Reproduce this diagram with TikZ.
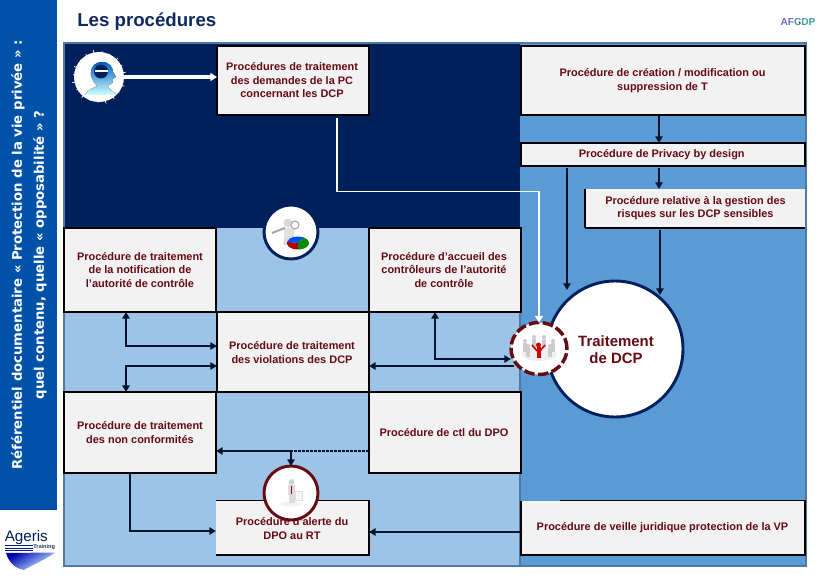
\documentclass[tikz,border=0pt]{standalone}
\usepackage{fontspec}
\setmainfont{Liberation Sans}
\newfontfamily\sidefont{DejaVu Sans}
\usetikzlibrary{arrows.meta,calc,shadings,shapes.geometric}
\definecolor{navy}{HTML}{00205C}
\definecolor{midblue}{HTML}{5B9BD5}
\definecolor{lightblue}{HTML}{9DC3E6}
\definecolor{sidebar}{HTML}{0052A8}
\definecolor{panelline}{HTML}{4F7AA5}
\definecolor{boxfill}{HTML}{F2F2F2}
\definecolor{wine}{HTML}{660A14}
\definecolor{titleblue}{HTML}{0F2A5F}
\definecolor{connc}{HTML}{04142E}
\tikzset{
  boxbase/.style={rectangle,fill=boxfill,inner sep=0pt,outer sep=0pt,anchor=north west},
  boxline/.style={boxbase,draw=black,line width=1.3pt},
  lab/.style={font=\bfseries\fontsize{8.2}{10.1}\selectfont,text=wine,align=center,inner sep=0pt},
  edge/.style={draw=black,line width=1.3pt},
  conn/.style={draw=connc,line width=1.3pt,-{Triangle[length=5pt,width=5.5pt]}},
  conntwo/.style={draw=connc,line width=1.3pt,{Triangle[length=5pt,width=5.5pt]}-{Triangle[length=5pt,width=5.5pt]}},
  whitec/.style={draw=white,line width=1pt,-{Triangle[length=5pt,width=6pt]}},
  disc/.style={circle,fill=white,inner sep=0pt,outer sep=0pt},
}
\begin{document}
\begin{tikzpicture}[x=0.75pt,y=-0.75pt]
\useasboundingbox (0,0) rectangle (822,581);
\fill[white] (0,0) rectangle (822,581);
% sidebar
\fill[sidebar] (0,0) rectangle (57,510);
\node[rotate=90,font=\sidefont\bfseries\fontsize{9.93}{16.5}\selectfont,text=white,align=center,inner sep=0pt] (side) at (29,255)
  {Référentiel documentaire « Protection de la vie privée » :\\quel contenu, quelle « opposabilité » ?};
\node[anchor=west,font=\bfseries\fontsize{14}{16}\selectfont,text=titleblue,inner sep=0pt] (title) at (77,22) {Les procédures};
% AFCDP logo
\node[anchor=center,font=\bfseries\fontsize{7.6}{9}\selectfont,inner sep=0pt] (afcdp) at (798,22.5) {\textcolor{gray!60!blue!80!white}{AF}\textcolor{teal!75!white}{CDP}};
\fill[red!70!black] (799.5,22.5) circle (1);
% panels
\fill[lightblue] (64,44) rectangle (520,565);
\fill[midblue] (520,44) rectangle (805,565);
\fill[navy] (64,44) rectangle (520,228);
\draw[panelline,line width=1.5pt] (63.5,43.5) rectangle (805.5,565.5);
\draw[panelline,line width=1pt] (520,228) -- (520,565);
% boxes
\node[boxline,minimum width=152*0.75pt,minimum height=69*0.75pt] (b1) at (217,46) {};
\node[boxline,minimum width=284*0.75pt,minimum height=69*0.75pt] (b2) at (521,46) {};
\node[boxline,minimum width=284*0.75pt,minimum height=23*0.75pt] (b3) at (521,143) {};
\node[boxbase,minimum width=220*0.75pt,minimum height=39*0.75pt] (b4) at (585,189) {};
\draw[edge,line width=0.9pt] (b4.north west) -- (b4.south west);
\draw[edge] (b4.south west) -- (b4.south east);
\node[boxline,minimum width=152*0.75pt,minimum height=84*0.75pt] (b5) at (64,228) {};
\node[boxline,minimum width=152*0.75pt,minimum height=84*0.75pt] (b6) at (369,228) {};
\node[boxline,minimum width=152*0.75pt,minimum height=80*0.75pt] (b7) at (217,312) {};
\node[boxline,minimum width=152*0.75pt,minimum height=81*0.75pt] (b8) at (64,392) {};
\node[boxline,minimum width=152*0.75pt,minimum height=81*0.75pt] (b9) at (369,392) {};
\node[boxbase,minimum width=153*0.75pt,minimum height=54.5*0.75pt] (b10) at (216,500.5) {};
\draw[edge] (b10.north west) -- (b10.north east) -- (b10.south east) -- (b10.south west);
\node[boxbase,minimum width=284*0.75pt,minimum height=54.5*0.75pt] (b11) at (521,500.5) {};
\coordinate (b11t) at (560,500.5);
\draw[edge] (b11t) -- (b11.north east) -- (b11.south east) -- (b11.south west) -- (b11.north west);
% labels
\node[lab] (t1) at (292,80.5) {Procédures de traitement\\des demandes de la PC\\concernant les DCP};
\node[lab] (t2) at (662.5,80.5) {Procédure de création / modification ou\\suppression de T};
\node[lab] (t3) at (661.7,155) {Procédure de Privacy by design};
\node[lab] (t4) at (695.5,208) {Procédure relative à la gestion des\\risques sur les DCP sensibles};
\node[lab] (t5) at (140,270) {Procédure de traitement\\de la notification de\\l’autorité de contrôle};
\node[lab] (t6) at (444,270) {Procédure d’accueil des\\contrôleurs de l’autorité\\de contrôle};
\node[lab] (t7) at (292,352.5) {Procédure de traitement\\des violations des DCP};
\node[lab] (t8) at (140,432.5) {Procédure de traitement\\des non conformités};
\node[lab] (t9) at (444,433) {Procédure de ctl du DPO};
\node[lab] (t10) at (292,528.5) {Procédure d’alerte du\\DPO au RT};
\node[lab] (t11) at (662.5,528) {Procédure de veille juridique protection de la VP};
% circles
\node[disc,draw=navy,line width=2.2pt,minimum size=136*0.75pt] (main) at (615,349) {};
\node[font=\bfseries\fontsize{11.2}{13}\selectfont,text=wine,align=center,inner sep=0pt] (maint) at (616,349.5) {Traitement\\de DCP};
\node[disc,minimum size=50*0.75pt] (head) at (99,77) {};
\foreach \a/\r in {0/26,20/27,37/25.5,55/26.5,75/27.5,92/26,110/25.5,130/27,150/26,168/27.5,185/26,203/27,222/25.5,240/26.5,258/27.5,277/26,295/25.5,315/27,333/26,350/27}{\draw[white,line width=0.5pt] ($(head)+(\a:24)$) -- ($(head)+(\a:\r)$);}
\node[disc,draw=navy,line width=2.2pt,minimum size=54*0.75pt] (loupe) at (291,232) {};
\node[ellipse,fill=white,inner sep=0pt,outer sep=0pt,draw=wine,line width=2.6pt,dash pattern=on 8pt off 2.5pt,minimum width=56*0.75pt,minimum height=52*0.75pt] (team) at (539,348.5) {};
\node[disc,draw=wine,line width=2.2pt,minimum size=54*0.75pt] (alert) at (291,493) {};
% connectors
\coordinate (hs) at (124,77);
\draw[whitec,line width=2.4pt] (hs) -- (b1.west |- hs);
\coordinate (w1) at (337,118);
\coordinate (w2) at (337,191.5);
\draw[whitec] (w1) -- (w2) -- (w2 -| team.north) -- (team.north);
\coordinate (c1) at (659,115);
\draw[conn] (c1) -- (c1 |- b3.north);
\coordinate (c2) at (659,168);
\draw[conn] (c2) -- (c2 |- b4.north);
\coordinate (c3) at (567,168);
\coordinate (c3e) at (567,290);
\draw[conn] (c3) -- (c3e);
\coordinate (c4) at (660,230);
\coordinate (c4e) at (660,295);
\draw[conn] (c4) -- (c4e);
\coordinate (d1) at (126,346);
\draw[conntwo] (d1 |- b5.south) -- (d1) -- (d1 -| b7.west);
\coordinate (d2) at (126,366);
\draw[conntwo] (d2 |- b8.north) -- (d2) -- (d2 -| b7.west);
\coordinate (d3) at (514,366);
\draw[conn] (d3) -- (d3 -| b7.east);
\coordinate (d4) at (435,359);
\coordinate (d5) at (511,359);
\draw[conntwo] (d4 |- b6.south) -- (d4) -- (d5);
\coordinate (e1) at (291,451);
\draw[connc,line width=1.3pt,dash pattern=on 2pt off 1pt] (b9.west |- e1) -- (e1);
\draw[conn] (e1) -- (e1 -| b8.east);
\draw[conn] (e1) -- (alert.north);
\coordinate (f1) at (130,531);
\draw[conn] (f1 |- b8.south) -- (f1) -- (f1 -| b10.west);
\coordinate (f2) at (369,532);
\draw[conn] (b11.west |- f2) -- (f2);
% head icon
\begin{scope}
\fill[top color=blue!50!cyan!75!black,bottom color=cyan!18] (85,95) .. controls (88,89) and (94,88) .. (97,86) .. controls (92,80) and (90,75) .. (91,72) .. controls (91,66) and (96,62) .. (102,62) .. controls (110,62) and (113,68) .. (113,72) -- (116,77) -- (113,79) .. controls (113,84) and (111,85) .. (108,85) .. controls (108,90) and (114,91) .. (117,95) -- cycle;
\fill[navy] (101,71.5) circle (7);
\fill[white] (94.5,70.5) rectangle (107.5,72.5);
\end{scope}
% magnifier figure icon
\begin{scope}
\fill[gray!30] (288,223) circle (4.5);
\fill[gray!22] (284,228) rectangle (294,238);
\fill[gray!28] (284,238) -- (283,245) -- (287,245) -- (289,239) -- (292,245) -- (295,243) -- (294,236) -- cycle;
\draw[gray!70,line width=1.5pt] (272,233) -- (285,228);
\draw[gray!60,line width=1pt] (295,225) circle (4);
\fill[red!70!black] (298,243) -- ++(90:11 and 6.5) arc[start angle=90,end angle=190,x radius=11,y radius=6.5] -- cycle;
\fill[blue!70!cyan] (298,243) -- ++(190:11 and 6.5) arc[start angle=190,end angle=300,x radius=11,y radius=6.5] -- cycle;
\fill[green!55!black] (298,243) -- ++(300:11 and 6.5) arc[start angle=300,end angle=450,x radius=11,y radius=6.5] -- cycle;
\end{scope}
% team icon
\begin{scope}
\fill[gray!12] (539,354) ellipse (18 and 7);
\foreach \x/\y in {525/341,534/337,544/337,553/341,528/346,550/346}{
  \fill[gray!40] (\x,\y) circle (2);
  \fill[gray!40] (\x-1.7,\y+2) rectangle (\x+1.7,\y+11);
}
\fill[red!80!black] (538.5,345) circle (2.5);
\fill[red!80!black] (536.5,347) rectangle (540.5,358);
\draw[red!80!black,line width=1.2pt] (532,345) -- (537,351) (545,345) -- (540,351);
\end{scope}
% alert icon
\begin{scope}
\fill[gray!10] (291,504) ellipse (11 and 2.5);
\fill[gray!35] (291.5,482) circle (3);
\fill[gray!28] (288,485) rectangle (295,495);
\fill[gray!28] (289,495) rectangle (294.5,503);
\draw[red!60!black,line width=0.7pt] (291.5,486) -- (291.5,494);
\fill[gray!6,draw=gray!25,line width=0.3pt] (295,491) rectangle (302,500);
\end{scope}
% Ageris logo
\node[anchor=west,font=\fontsize{11.4}{12}\selectfont,text=navy,inner sep=0pt] (ager) at (4.5,537.5) {Ageris};
\node[anchor=west,font=\bfseries\fontsize{4.2}{5}\selectfont,text=navy!70!gray,inner sep=0pt] (train) at (33,547.5) {Training};
\fill[navy!80!blue] (5,545) rectangle (33,546);
\fill[navy!80!blue] (5,547.5) rectangle (33,548.5);
\fill[navy!80!blue] (5,550) rectangle (33,551);
\shade[left color=blue!70!black,right color=cyan!20,shading angle=30] (6,553) -- (55,552.5) .. controls (45,560) and (30,566) .. (24,570) .. controls (14,568) and (9,562) .. (6,553) -- cycle;
\end{tikzpicture}
\end{document}
